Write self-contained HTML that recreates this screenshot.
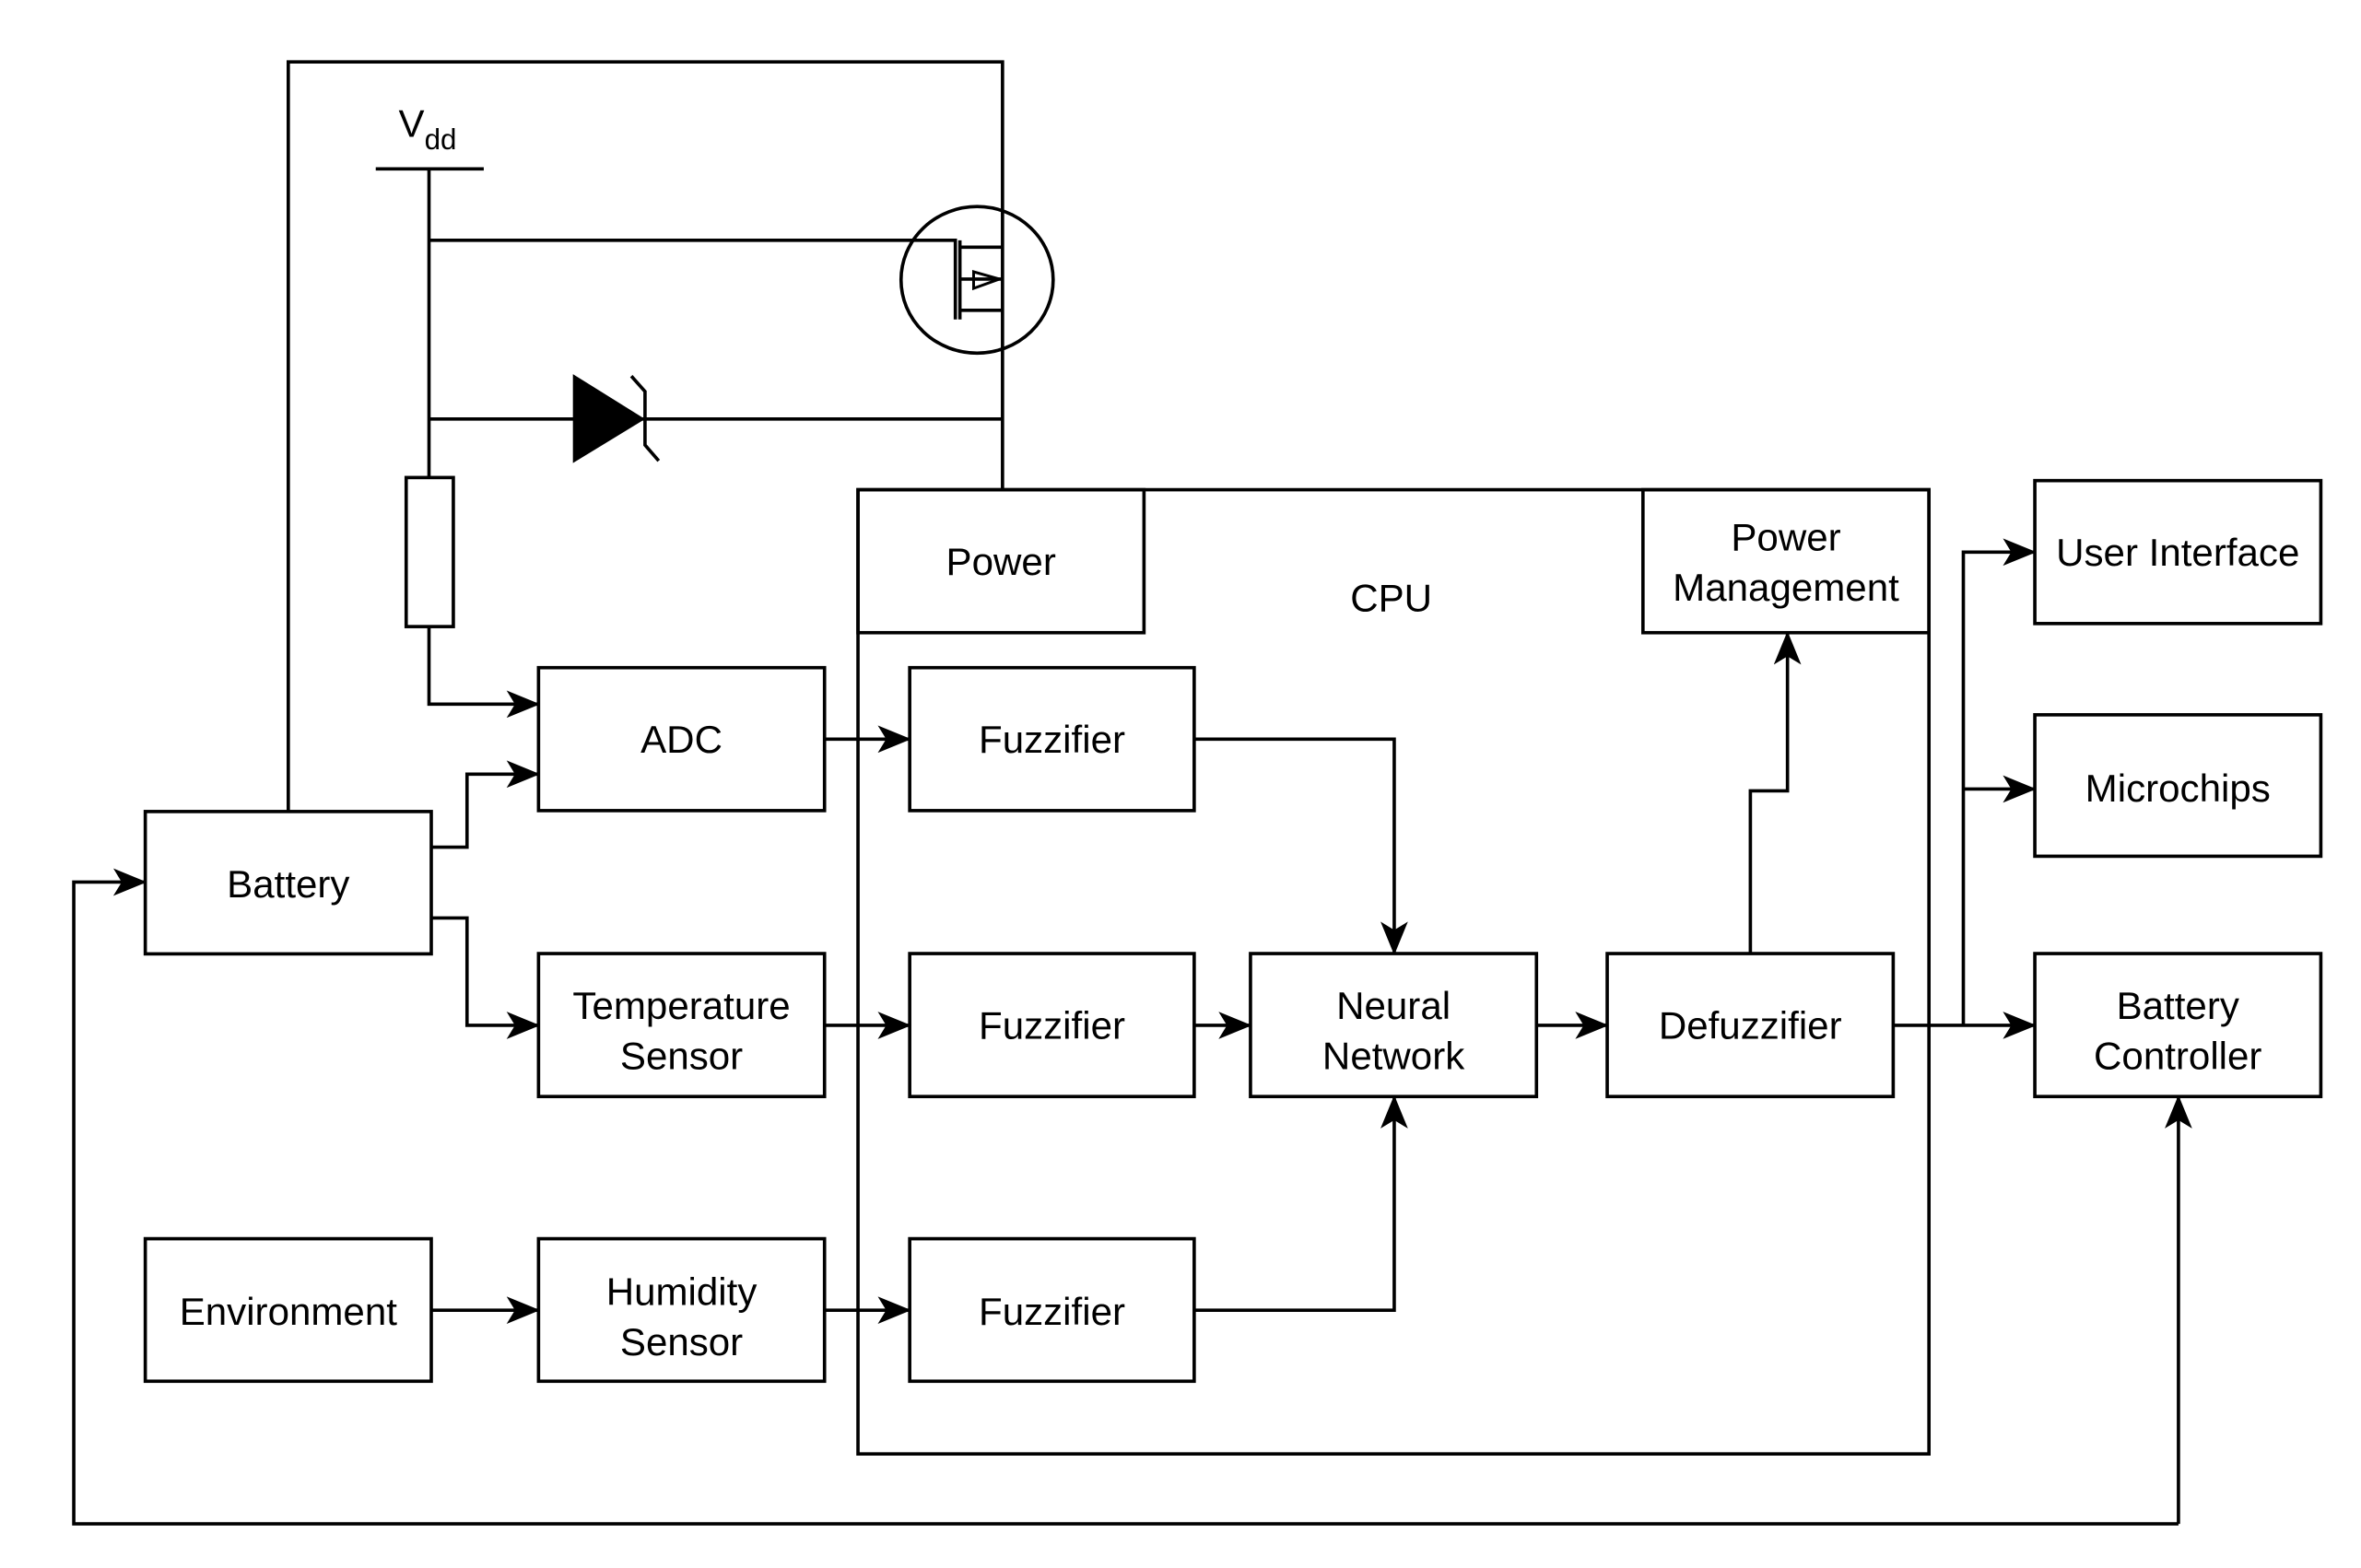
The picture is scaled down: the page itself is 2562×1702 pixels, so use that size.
<!DOCTYPE html>
<html><head><meta charset="utf-8"><style>html,body{margin:0;padding:0;background:#fff}svg{display:block}</style></head>
<body>
<svg width="2562" height="1702" viewBox="0 0 1552 1031" xmlns="http://www.w3.org/2000/svg" font-family="Liberation Sans, Arial, sans-serif">
<defs>
<marker id="a" viewBox="0 0 22 18" refX="21" refY="9" markerWidth="22" markerHeight="18" markerUnits="userSpaceOnUse" orient="auto">
<path d="M0,0 L22,9 L0,18 L5.5,9 Z" fill="#000"/>
</marker>
</defs>
<rect width="1552" height="1031" fill="#fff"/>
<g fill="none" stroke="#000" stroke-width="2.2">
<polyline points="189.5,533.6 189.5,40.7 659,40.7 659,322"/>
<line x1="247" y1="111" x2="318" y2="111"/>
<polyline points="282,111 282,314"/>
<polyline points="282,158 628,158 628,210"/>
<line x1="631" y1="158" x2="631" y2="210"/>
<polyline points="631,162.5 659,162.5"/>
<polyline points="631,204 659,204"/>
<line x1="631" y1="183.5" x2="659" y2="183.5"/>
<path d="M640,178.7 L640,189.6 L657,183.5 Z" stroke-width="1.8"/>
<ellipse cx="642.3" cy="184" rx="50" ry="48.2"/>
<line x1="282" y1="275.5" x2="659" y2="275.5"/>
<polyline points="415,247.3 424,257.4 424,292.6 433,303"/>
<rect x="267" y="314" width="31" height="98"/>
<polyline points="282,412 282,463 354,463" marker-end="url(#a)"/>
<rect x="354" y="439" width="188" height="94"/>
<rect x="95.5" y="533.6" width="188" height="93.6"/>
<rect x="354" y="627" width="188" height="94"/>
<rect x="95.5" y="814.5" width="188" height="93.7"/>
<rect x="354" y="814.5" width="188" height="93.7"/>
<rect x="564" y="322" width="704" height="634"/>
<rect x="564" y="322" width="188" height="94"/>
<rect x="1080" y="322" width="188" height="94"/>
<rect x="598" y="439" width="187" height="94"/>
<rect x="598" y="627" width="187" height="94"/>
<rect x="598" y="814.5" width="187" height="93.7"/>
<rect x="822" y="627" width="188" height="94"/>
<rect x="1056.5" y="627" width="188" height="94"/>
<rect x="1337.6" y="316" width="188" height="94"/>
<rect x="1337.6" y="470" width="188" height="93"/>
<rect x="1337.6" y="627" width="188" height="94"/>
<polyline points="283.5,557 307,557 307,509 354,509" marker-end="url(#a)"/>
<polyline points="283.5,603.6 307,603.6 307,674.2 354,674.2" marker-end="url(#a)"/>
<polyline points="542,486 598,486" marker-end="url(#a)"/>
<polyline points="542,674.2 598,674.2" marker-end="url(#a)"/>
<polyline points="283.5,861.5 354,861.5" marker-end="url(#a)"/>
<polyline points="542,861.5 598,861.5" marker-end="url(#a)"/>
<polyline points="785,486 916.5,486 916.5,627" marker-end="url(#a)"/>
<polyline points="785,861.5 916.5,861.5 916.5,721" marker-end="url(#a)"/>
<polyline points="785,674.2 822,674.2" marker-end="url(#a)"/>
<polyline points="1010,674.2 1056.5,674.2" marker-end="url(#a)"/>
<polyline points="1150.6,627 1150.6,520 1175,520 1175,416" marker-end="url(#a)"/>
<polyline points="1244.6,674.2 1337.6,674.2" marker-end="url(#a)"/>
<polyline points="1290.6,674.2 1290.6,363 1337.6,363" marker-end="url(#a)"/>
<polyline points="1290.6,518.8 1337.6,518.8" marker-end="url(#a)"/>
<polyline points="1432,1002 48.5,1002 48.5,580 95.5,580" marker-end="url(#a)"/>
<polyline points="1432,1002 1432,721" marker-end="url(#a)"/>
</g>
<path d="M376.6,246 L424,275.5 L376.6,304.5 Z" fill="#000"/>
<g font-size="25.5" text-anchor="middle" fill="#000">
<text x="262" y="90" text-anchor="start">V<tspan font-size="19" dy="8">dd</tspan></text>
<text x="448" y="495">ADC</text>
<text x="189.5" y="590">Battery</text>
<text x="448" y="670">Temperature</text>
<text x="448" y="703">Sensor</text>
<text x="189.5" y="871">Environment</text>
<text x="448" y="858">Humidity</text>
<text x="448" y="891">Sensor</text>
<text x="658" y="378">Power</text>
<text x="914.5" y="402">CPU</text>
<text x="1174" y="362">Power</text>
<text x="1174" y="395">Management</text>
<text x="691.5" y="495">Fuzzifier</text>
<text x="691.5" y="683">Fuzzifier</text>
<text x="691.5" y="871">Fuzzifier</text>
<text x="916" y="670">Neural</text>
<text x="916" y="703">Network</text>
<text x="1150.5" y="683">Defuzzifier</text>
<text x="1431.6" y="372">User Interface</text>
<text x="1431.6" y="527">Microchips</text>
<text x="1431.6" y="670">Battery</text>
<text x="1431.6" y="703">Controller</text>
</g>
</svg>
</body></html>
